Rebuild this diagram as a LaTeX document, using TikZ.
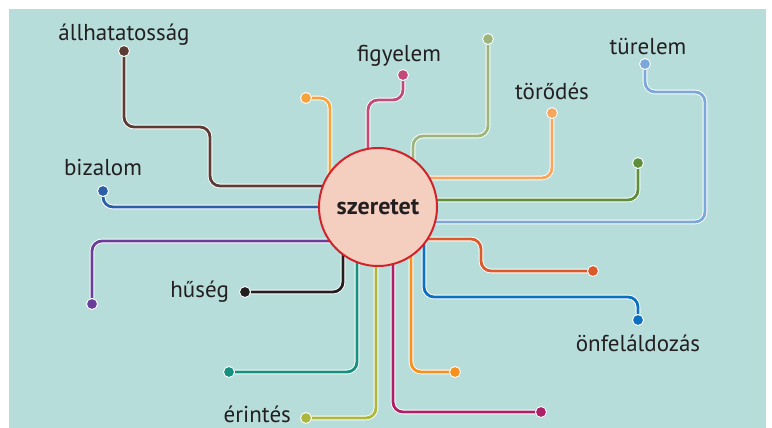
\documentclass[tikz,border=0pt]{standalone}
\usepackage{fontspec}
\setmainfont{PT Sans}
\usepackage{tikz}
\usetikzlibrary{positioning, backgrounds}
\definecolor{bgteal}{HTML}{B6DDDA}
\definecolor{ink}{HTML}{231F20}
\definecolor{heartfill}{HTML}{F4CFC0}
\definecolor{heartrim}{HTML}{D2232A}
\definecolor{cBrown}{HTML}{5B3B33}
\definecolor{cBiz}{HTML}{2B5EA7}
\definecolor{cOrA}{HTML}{F9A23A}
\definecolor{cFig}{HTML}{C04A78}
\definecolor{cOlive}{HTML}{9CB57C}
\definecolor{cTor}{HTML}{F8A55E}
\definecolor{cGreen}{HTML}{5E8E3B}
\definecolor{cTur}{HTML}{7BA7D9}
\definecolor{cRed}{HTML}{DC5A2A}
\definecolor{cOnf}{HTML}{0B70BF}
\definecolor{cOrB}{HTML}{F7901F}
\definecolor{cMag}{HTML}{AD1F66}
\definecolor{cEri}{HTML}{ABB83C}
\definecolor{cTeal}{HTML}{15907F}
\definecolor{cHus}{HTML}{231F20}
\definecolor{cPur}{HTML}{6B3D9B}
\tikzset{
x=1pt, y=-1pt, % work in picture pixels, y grows downwards
dot/.style={circle, fill=#1, draw=white, line width=0.9pt, minimum size=11pt, inner sep=0pt}, % end point of a line
word/.style={font=\fontsize{23}{26}\selectfont, text=ink, inner sep=0pt}, % the labels
link/.style={draw=white, line width=0.9pt, double=#1, double distance=2.8pt, rounded corners=10pt}, % a line with a white rim
heart/.style={circle, fill=heartfill, draw=heartrim, line width=2pt, minimum size=118pt, font=\bfseries\fontsize{24}{28}\selectfont, text=ink}, % the middle
}
\begin{document}
\begin{tikzpicture}
\useasboundingbox (0,0) rectangle (772,428);

% the word in the middle
\node[heart] (love) at (378,207) {szeretet};

% end points
\node[dot=cBrown] (dAll) at (124,51) {};
\node[dot=cBiz] (dBiz) at (103,191) {};
\node[dot=cOrA] (dOrA) at (306,98) {};
\node[dot=cFig] (dFig) at (403,75) {};
\node[dot=cOlive] (dOl) at (488,39) {};
\node[dot=cTor] (dTor) at (552,113) {};
\node[dot=cGreen] (dGr) at (638,163) {};
\node[dot=cTur] (dTur) at (645,64) {};
\node[dot=cRed] (dRed) at (593,271) {};
\node[dot=cOnf] (dOnf) at (638,320) {};
\node[dot=cOrB] (dOrB) at (455,372) {};
\node[dot=cMag] (dMag) at (541,412) {};
\node[dot=cEri] (dEri) at (306,418) {};
\node[dot=cTeal] (dTeal) at (229,372) {};
\node[dot=cHus] (dHus) at (245,292) {};
\node[dot=cPur] (dPur) at (92,304) {};

% labels
\node[word, above=5pt of dAll, anchor=base] {állhatatosság};
\node[word, above=10pt of dBiz, anchor=base] {bizalom};
\node[word, above=8pt of dFig, anchor=base, xshift=-4pt] {figyelem};
\node[word, above=8pt of dTor, anchor=base] {törődés};
\node[word, above=4pt of dTur, anchor=base, xshift=3pt] {türelem};
\node[word, below=9pt of dOnf] {önfeláldozás};
\node[word, left=10pt of dHus] {hűség};
\node[word, left=9pt of dEri, anchor=base east, yshift=-4pt] {érintés};

\begin{scope}[on background layer]
\fill[bgteal] (9,9) rectangle (766,428);
\draw[link=cBrown] (dAll) |- (210,127) |- ([yshift=21pt]love.center);
\draw[link=cBiz] (dBiz) |- (love.center);
\draw[link=cOrA] (dOrA) -| ([xshift=-48pt]love.center);
\draw[link=cFig] (dFig) |- (368,100) -- ([xshift=-10pt]love.center);
\draw[link=cOlive] (dOl) |- (413,136) -- ([xshift=35pt]love.center);
\draw[link=cTor] (dTor) |- ([yshift=29pt]love.center);
\draw[link=cGreen] (dGr) |- ([yshift=7pt]love.center);
\draw[link=cTur] (dTur) |- (705,92) |- ([yshift=-15pt]love.center);
\draw[link=cRed] ([yshift=-32pt]love.center) -| (481,271) -- (dRed);
\draw[link=cOnf] ([xshift=46pt]love.center) |- (638,297) -- (dOnf);
\draw[link=cOrB] ([xshift=33pt]love.center) |- (dOrB);
\draw[link=cMag] ([xshift=15pt]love.center) |- (dMag);
\draw[link=cEri] ([xshift=-2pt]love.center) |- (dEri);
\draw[link=cTeal] ([xshift=-21pt]love.center) |- (dTeal);
\draw[link=cHus] ([xshift=-35pt]love.center) |- (dHus);
\draw[link=cPur] ([yshift=-34pt]love.center) -| (dPur);
\end{scope}
\end{tikzpicture}
\end{document}
